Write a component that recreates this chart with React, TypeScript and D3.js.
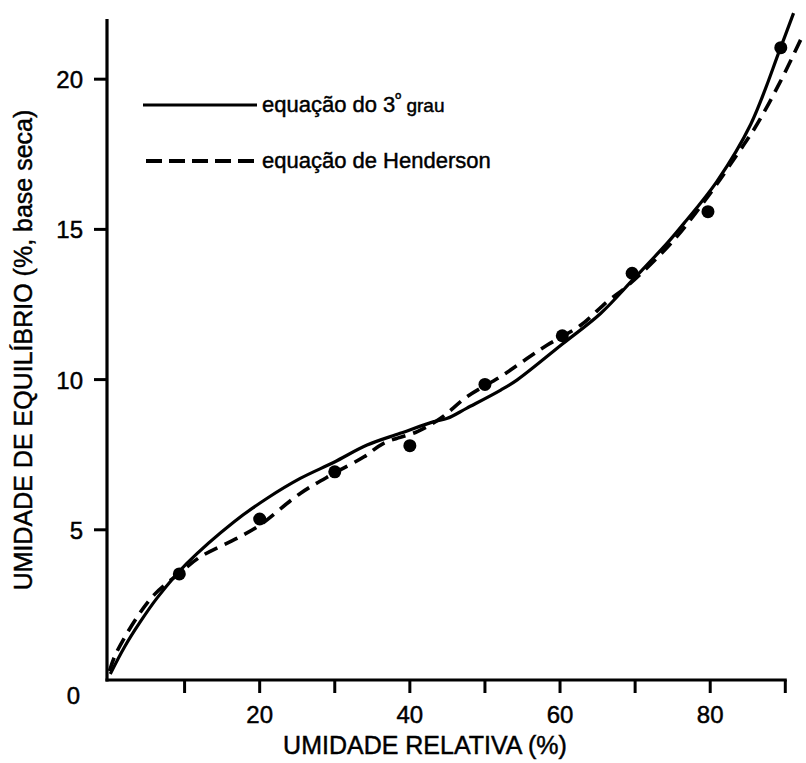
import React from "react";
import * as d3 from "d3";

// Observed data points (relative humidity %, equilibrium moisture % dry basis)
const pointRH = [9.3, 20, 30, 40, 50, 60.3, 69.6, 79.7, 89.4];
const pointEMC = [3.53, 5.36, 6.93, 7.8, 9.84, 11.46, 13.54, 15.59, 21.05];

// Solid curve: 3rd-degree equation
const cubicRH = [0.1, 2, 4, 6.4, 10.3, 16.6, 21, 25.4, 29.9, 34.3, 38.7, 43.2, 45, 47.6, 52.1, 54.3, 60.4, 65.4, 69.8, 74.3, 76.5, 80.9, 85.4, 89.3, 91.1];
const cubicEMC = [0.2, 1.1, 1.9, 2.75, 3.88, 5.27, 6.05, 6.71, 7.25, 7.82, 8.21, 8.6, 8.71, 9.05, 9.65, 9.99, 11.2, 12.2, 13.35, 14.55, 15.2, 16.6, 18.5, 21.0, 22.2];

// Dashed curve: Henderson equation
const hendRH = [0, 0.8, 3.7, 6.0, 9.3, 12.1, 17.4, 20, 25.4, 29.9, 33.9, 36.5, 41, 44.1, 47.6, 52.1, 55.6, 58.3, 62.7, 66.3, 68.9, 75, 80, 83.6, 86, 89.3, 92.4];
const hendEMC = [0.3, 0.85, 2.1, 2.85, 3.55, 4.1, 4.77, 5.15, 6.21, 6.88, 7.43, 7.88, 8.27, 8.71, 9.43, 10.1, 10.7, 11.15, 11.8, 12.6, 13.1, 14.6, 16.2, 17.5, 18.4, 19.9, 21.5];

const xTicks = [10, 20, 30, 40, 50, 60, 70, 80, 90];
const xTickLabels = [20, 40, 60, 80];
const yTicks = [5, 10, 15, 20];
const yTickLabels = [5, 10, 15, 20];

const xTitle = "UMIDADE RELATIVA (%)";
const yTitle = "UMIDADE DE EQUILÍBRIO (%, base seca)";
const legendSolid = "equação do 3";
const legendDashed = "equação de Henderson";

const FONT = "'Liberation Sans', Arial, Helvetica, sans-serif";
const textStyle = { fontFamily: FONT, fill: "#000", stroke: "#000", strokeWidth: 0.45 };

export default function App() {
  const W = 806;
  const H = 763;
  const x = d3.scaleLinear().domain([0, 90]).range([109.5, 785.3]);
  const y = d3.scaleLinear().domain([0, 22]).range([680, 19.1]);

  const axisX = x(0) - 2.5;
  const line = d3
    .line<[number, number]>()
    .x((d) => x(d[0]))
    .y((d) => y(d[1]))
    .curve(d3.curveCatmullRom.alpha(0.5));

  const cubicPath = line(cubicRH.map((r, i) => [r, cubicEMC[i]] as [number, number])) || "";
  const hendPath = line(hendRH.map((r, i) => [r, hendEMC[i]] as [number, number])) || "";

  return (
    <svg width={W} height={H} style={{ position: "absolute", left: 0, top: 0, background: "#fff" }}>
      <rect x={0} y={0} width={W} height={H} fill="#fff" />
      {/* axes */}
      <line x1={axisX} y1={y(0) + 1.5} x2={axisX} y2={y(22)} stroke="#000" strokeWidth={3.2} />
      <line x1={axisX - 1.5} y1={y(0)} x2={x(90) + 1.5} y2={y(0)} stroke="#000" strokeWidth={3} />

      {xTicks.map((t) => (
        <line key={"xt" + t} x1={x(t)} y1={y(0)} x2={x(t)} y2={y(0) + 13} stroke="#000" strokeWidth={3} />
      ))}
      {xTickLabels.map((t) => (
        <text key={"xl" + t} x={x(t)} y={723} textAnchor="middle" fontSize={24} style={textStyle}>
          {t}
        </text>
      ))}
      {yTicks.map((t) => (
        <line key={"yt" + t} x1={axisX} y1={y(t)} x2={axisX - 13} y2={y(t)} stroke="#000" strokeWidth={3} />
      ))}
      {yTickLabels.map((t) => (
        <text key={"yl" + t} x={83} y={y(t) + 9} textAnchor="end" fontSize={24} style={textStyle}>
          {t}
        </text>
      ))}
      <text x={80} y={704} textAnchor="end" fontSize={24} style={textStyle}>
        0
      </text>

      {/* titles */}
      <text x={425} y={754} textAnchor="middle" fontSize={25} style={textStyle}>
        {xTitle}
      </text>
      <text transform={`translate(32, 350) rotate(-90)`} textAnchor="middle" fontSize={25} style={textStyle}>
        {yTitle}
      </text>

      {/* curves */}
      <path d={cubicPath} fill="none" stroke="#000" strokeWidth={3.2} />
      <path d={hendPath} fill="none" stroke="#000" strokeWidth={3.6} strokeDasharray="14 8" />

      {/* data points */}
      {pointRH.map((r, i) => (
        <circle key={"p" + i} cx={x(r)} cy={y(pointEMC[i])} r={6.5} fill="#000" />
      ))}

      {/* legend */}
      <line x1={143} y1={105} x2={257} y2={105} stroke="#000" strokeWidth={3} />
      <text x={262} y={112} fontSize={22} style={textStyle}>
        {legendSolid}
        <tspan fontSize={16} dy={-8}>º</tspan>
        <tspan fontSize={19} dy={8}> grau</tspan>
      </text>
      <line x1={146} y1={161} x2={257} y2={161} stroke="#000" strokeWidth={4} strokeDasharray="16 7" />
      <text x={262} y={168} fontSize={22} style={textStyle}>
        {legendDashed}
      </text>
    </svg>
  );
}
